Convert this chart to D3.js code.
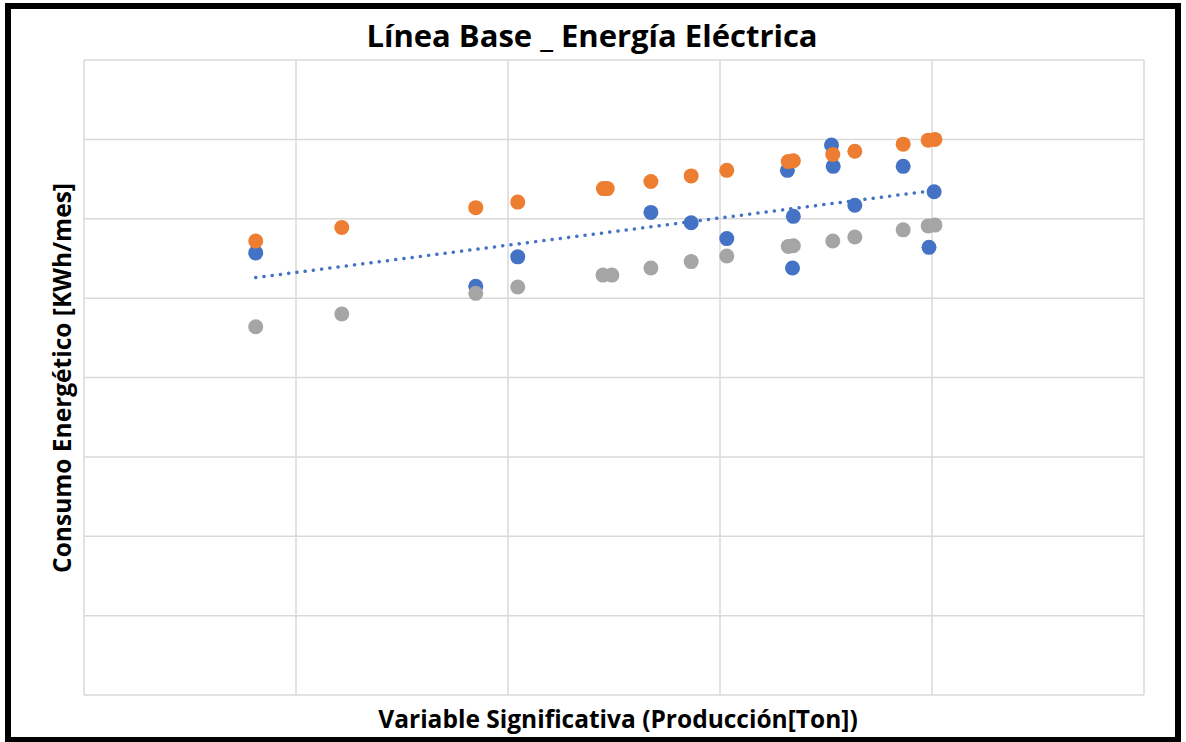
<!DOCTYPE html>
<html>
<head>
<meta charset="utf-8">
<script src="https://cdn.jsdelivr.net/npm/d3@7"></script>
<style>
  body { margin: 0; background: #fff; }
  text { font-family: "Open Sans", "DejaVu Sans", sans-serif; }
</style>
</head>
<body>
<div class="vizcontainer"></div>
<script>
// values (x: production, y: kWh/month), arbitrary units
const blueX = [40.5, 92.4, 102.3, 133.7, 143.2, 151.6, 165.9, 167.3, 167.1, 176.3, 176.7, 181.8, 193.2, 200.5, 199.3];
const blueY = [55700, 51500, 55200, 60800, 59500, 57500, 66100, 60300, 53800, 69300, 66600, 61700, 66600, 63400, 56400];

const orangeX = [40.5, 60.8, 92.4, 102.3, 122.5, 123.4, 133.7, 143.2, 151.6, 166.1, 167.3, 176.6, 181.8, 193.2, 199.1, 200.7];
const orangeY = [57200, 58900, 61400, 62100, 63800, 63800, 64700, 65400, 66100, 67200, 67300, 68100, 68500, 69400, 69900, 70000];

const grayX = [40.5, 60.8, 92.4, 102.3, 122.4, 124.5, 133.7, 143.2, 151.6, 166.1, 167.3, 176.6, 181.8, 193.2, 199.1, 200.7];
const grayY = [46400, 48000, 50600, 51400, 52900, 52900, 53800, 54600, 55300, 56500, 56600, 57200, 57700, 58600, 59100, 59200];

const xTicks = [0, 50, 100, 150, 200, 250];
const yTicks = [0, 10000, 20000, 30000, 40000, 50000, 60000, 70000, 80000];

const W = 1186, H = 742;
const plot = { left: 84, right: 1144, top: 60, bottom: 695 };

const svg = d3.select(".vizcontainer")
  .append("svg")
  .attr("width", W)
  .attr("height", H);

svg.append("rect")
  .attr("width", W).attr("height", H)
  .attr("fill", "#fff");

const x = d3.scaleLinear().domain([0, 250]).range([plot.left, plot.right]);
const y = d3.scaleLinear().domain([0, 80000]).range([plot.bottom, plot.top]);

// gridlines
const grid = svg.append("g");
grid.selectAll("line.v")
  .data(xTicks)
  .enter().append("line")
  .attr("x1", d => x(d)).attr("x2", d => x(d))
  .attr("y1", plot.top).attr("y2", plot.bottom)
  .attr("stroke", "#d9d9d9").attr("stroke-width", 1.5);
grid.selectAll("line.h")
  .data(yTicks)
  .enter().append("line")
  .attr("x1", plot.left).attr("x2", plot.right)
  .attr("y1", d => y(d)).attr("y2", d => y(d))
  .attr("stroke", "#d9d9d9").attr("stroke-width", 1.5);

function dots(xs, ys, color) {
  svg.append("g")
    .selectAll("circle")
    .data(xs.map((d, i) => [d, ys[i]]))
    .enter().append("circle")
    .attr("cx", d => x(d[0]))
    .attr("cy", d => y(d[1]))
    .attr("r", 7.5)
    .attr("fill", color);
}

dots(blueX, blueY, "#4472c4");
dots(orangeX, orangeY, "#ed7d31");
dots(grayX, grayY, "#a5a5a5");

// linear trendline of the blue series
const mx = d3.mean(blueX), my = d3.mean(blueY);
const slope = d3.sum(blueX, (d, i) => (d - mx) * (blueY[i] - my)) / d3.sum(blueX, d => (d - mx) * (d - mx));
const icpt = my - slope * mx;
const ext = d3.extent(blueX);

svg.append("line")
  .attr("x1", x(ext[0])).attr("y1", y(icpt + slope * ext[0]))
  .attr("x2", x(ext[1])).attr("y2", y(icpt + slope * ext[1]))
  .attr("stroke", "#4472c4")
  .attr("stroke-width", 3.5)
  .attr("stroke-linecap", "round")
  .attr("stroke-dasharray", "0.1 8.2");

// titles
svg.append("text")
  .attr("x", 592).attr("y", 47)
  .attr("text-anchor", "middle")
  .style("font-size", "31px").style("font-weight", "bold")
  .text("Línea Base _ Energía Eléctrica");

svg.append("text")
  .attr("x", 618).attr("y", 728)
  .attr("text-anchor", "middle")
  .style("font-size", "24.5px").style("font-weight", "bold")
  .text("Variable Significativa (Producción[Ton])");

svg.append("text")
  .attr("transform", "translate(71, 378) rotate(-90)")
  .attr("text-anchor", "middle")
  .style("font-size", "24.5px").style("font-weight", "bold")
  .text("Consumo Energético [KWh/mes]");

// outer frame
svg.append("rect")
  .attr("x", 8).attr("y", 6)
  .attr("width", 1170).attr("height", 734)
  .attr("fill", "none")
  .attr("stroke", "#000")
  .attr("stroke-width", 6);
</script>
</body>
</html>
